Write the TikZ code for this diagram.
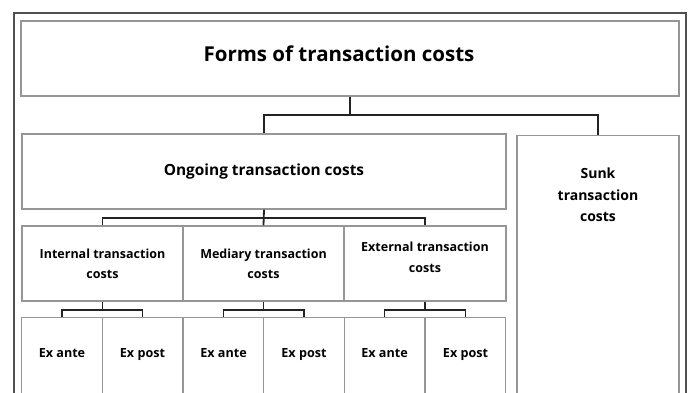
\documentclass[tikz,border=0pt]{standalone}
\usepackage{fontspec}
\setmainfont{Open Sans}
\usetikzlibrary{calc}
\definecolor{boxgray}{RGB}{150,150,150}
\definecolor{framegray}{RGB}{80,80,80}
\definecolor{conncol}{RGB}{35,35,35}
\tikzset{
  box/.style={draw=boxgray, line width=1.4pt, fill=white, inner sep=0pt, align=center, font=\bfseries\fontsize{12.5}{20}\selectfont},
  conn/.style={draw=conncol, line width=1.8pt},
  exbox/.style={box, minimum width=80.5pt, minimum height=90pt,
    label={[font=\bfseries\fontsize{12.6}{14}\selectfont, anchor=base, yshift=-40.5pt]north:#1}},
  midbox/.style={box, minimum width=161pt, minimum height=75pt},
}
\begin{document}
\begin{tikzpicture}[x=1pt,y=-1pt]
\useasboundingbox (0,0) rectangle (688,392);
\clip (0,0) rectangle (688,392);
\fill[white] (0,0) rectangle (688,392);
\draw[framegray, line width=1.3pt] (14,13) rectangle (686,420);
% top level
\node[box, minimum width=658pt, minimum height=75pt,
  label={[font=\bfseries\fontsize{20.5}{24}\selectfont, anchor=base, xshift=-11pt, yshift=-41pt]north:Forms of transaction costs}] (top) at (350,58.5) {};
% second level
\node[box, minimum width=484pt, minimum height=75pt, font=\bfseries\fontsize{15.4}{18}\selectfont] (ongoing) at (264,171.5) {Ongoing transaction costs};
\node[box, minimum width=162pt, minimum height=280pt, anchor=north,
  label={[font=\bfseries\fontsize{14}{21.5}\selectfont, align=center, anchor=center, yshift=-60pt]north:Sunk\\transaction\\costs}] (sunk) at (598,135) {};
% third level
\node[midbox] (internal) at (102.5,263.5) {Internal transaction\\costs};
\node[midbox] (mediary) at (263.5,263.5) {Mediary transaction\\costs};
\node[midbox, minimum width=162pt] (external) at (425,263.5) {External transaction\\[1pt]costs\\[-7pt]};
% fourth level
\node[exbox=Ex ante, anchor=north] (ia) at (62,317) {};
\node[exbox=Ex post, anchor=north] (ip) at (142.5,317) {};
\node[exbox=Ex ante, anchor=north] (ma) at (223.5,317) {};
\node[exbox=Ex post, anchor=north] (mp) at (304,317) {};
\node[exbox=Ex ante, anchor=north] (ea) at (384.5,317) {};
\node[exbox=Ex post, anchor=north] (ep) at (465.5,317) {};
% connectors
\coordinate (j1) at (350,115);
\draw[conn] (top.south) -- (j1);
\draw[conn] (ongoing.north) |- (j1) -| (sunk.north);
\coordinate (j2) at (264,218);
\draw[conn] (ongoing.south) -- (mediary.north);
\draw[conn] (internal.north) |- (j2) -| (external.north);
\draw[conn] (internal.south) -- ++(0,8) coordinate (j3);
\draw[conn] (ia.north) |- (j3) -| (ip.north);
\draw[conn] (mediary.south) -- ++(0,8) coordinate (j4);
\draw[conn] (ma.north) |- (j4) -| (mp.north);
\draw[conn] (external.south) -- ++(0,8) coordinate (j5);
\draw[conn] (ea.north) |- (j5) -| (ep.north);
\end{tikzpicture}
\end{document}
